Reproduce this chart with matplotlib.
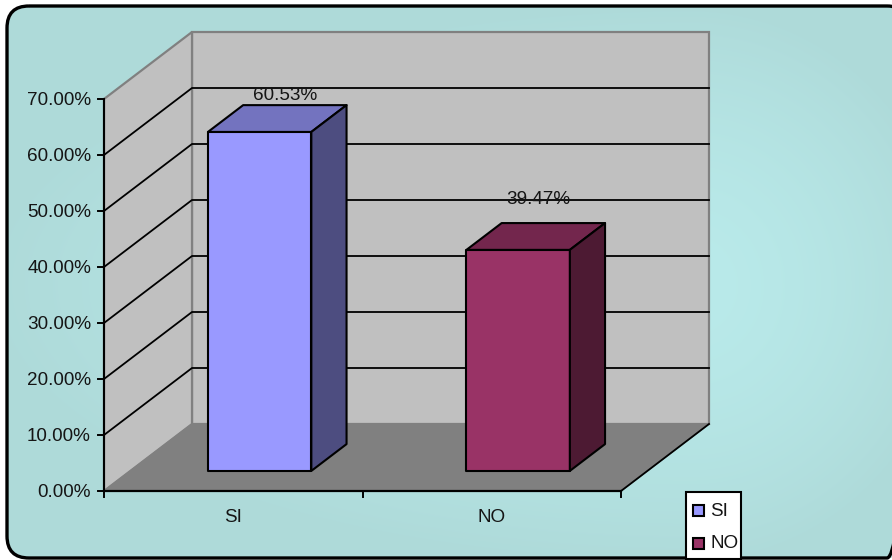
import numpy as np
from matplotlib import pyplot as plt
from matplotlib.patches import FancyBboxPatch, Polygon, Rectangle

categories = ['SI', 'NO']
values = [60.53, 39.47]
value_labels = ['60.53%', '39.47%']
ticks = [0, 10, 20, 30, 40, 50, 60, 70]
tick_labels = ['0.00%', '10.00%', '20.00%', '30.00%', '40.00%', '50.00%', '60.00%', '70.00%']

face_colors = ['#9999ff', '#993366']
top_colors = ['#7373bf', '#73264d']
side_colors = ['#4d4d80', '#4d1a33']

plt.rcParams['font.family'] = ['Liberation Sans', 'DejaVu Sans']
FONT = 13.6
TEXT_COLOR = '#151515'

# pixel layout of the box: front corner, size and depth shift
X0, Y0 = 104, 491
WIDTH = 517
PER_UNIT = 5.6
DX, DY = 88, -67


def project(x, v, d=0.0):
    '''x in category units (0-2), v in percent, d depth from 0 (front) to 1 (back).'''
    return (X0 + x * WIDTH / 2 + d * DX, Y0 - v * PER_UNIT + d * DY)


fig = plt.figure(figsize=(8.92, 5.6), dpi=100)
ax = fig.add_axes([0, 0, 1, 1])
ax.set_xlim(0, 892)
ax.set_ylim(560, 0)
ax.axis('off')

# panel gradient: lightest right of the plot, darkening towards the edges
yy, xx = np.mgrid[0:560, 0:892]
x_scale = np.where(xx > 690, 270.0, 720.0)
shade = np.sqrt(((xx - 690) / x_scale) ** 2 + ((yy - 285) / 285.0) ** 2)
shade = np.clip(shade, 0, 1)[..., None] ** 1.6
light = np.array([0xb9, 0xea, 0xea]) / 255
dark = np.array([0xae, 0xda, 0xd9]) / 255
img = ax.imshow(light * (1 - shade) + dark * shade, extent=(0, 892, 560, 0),
                aspect='auto', zorder=0)
ax.set_xlim(0, 892)
ax.set_ylim(560, 0)

# rounded border, running off the right edge
panel_box = ((7, 6), 902, 552)
clip = FancyBboxPatch(*panel_box, boxstyle='round,pad=0,rounding_size=22',
                      facecolor='none', edgecolor='none')
ax.add_patch(clip)
img.set_clip_path(clip)
ax.add_patch(FancyBboxPatch(*panel_box, boxstyle='round,pad=0,rounding_size=22',
                            facecolor='none', edgecolor='black', linewidth=2.4,
                            clip_on=True, zorder=3))

# walls and floor
back = [project(0, 0, 1), project(2, 0, 1), project(2, 70, 1), project(0, 70, 1)]
left = [project(0, 0, 0), project(0, 0, 1), project(0, 70, 1), project(0, 70, 0)]
floor = [project(0, 0, 0), project(2, 0, 0), project(2, 0, 1), project(0, 0, 1)]
ax.add_patch(Polygon(back, facecolor='#c0c0c0', edgecolor='#808080', linewidth=1.6, zorder=1))
ax.add_patch(Polygon(left, facecolor='#c0c0c0', edgecolor='#808080', linewidth=1.6, zorder=1))
ax.add_patch(Polygon(floor, facecolor='#808080', edgecolor='#808080', linewidth=1.0, zorder=1))

# gridlines across both walls
for t in ticks[1:-1]:
    pts = [project(0, t, 0), project(0, t, 1), project(2, t, 1)]
    ax.plot(*zip(*pts), color='black', linewidth=1.3, zorder=2)

# axis lines and tick marks
ax.plot(*zip(project(0, 0), project(0, 70)), color='black', linewidth=1.5, zorder=2)
ax.plot(*zip(project(0, 0), project(2, 0)), color='black', linewidth=1.6, zorder=2)
ax.plot(*zip(project(2, 0), project(2, 0, 1)), color='black', linewidth=1.3, zorder=2)
for t, label in zip(ticks, tick_labels):
    x, y = project(0, t)
    ax.plot([x - 6, x], [y, y], color='black', linewidth=1.4, zorder=2)
    ax.text(x - 13, y + 1.5, label, ha='right', va='center', fontsize=FONT, color=TEXT_COLOR)
for i in range(3):
    x, y = project(i, 0)
    ax.plot([x, x], [y, y + 6], color='black', linewidth=1.4, zorder=2)

# bars: the front sits at d0, the back at d1
d0, d1 = 0.3, 0.7
bar_left, bar_right = 0.30, 0.70
label_shift = [(-10, -10), (-15, -24)]
for i, (name, v, text) in enumerate(zip(categories, values, value_labels)):
    l, r = i + bar_left, i + bar_right
    front = [project(l, 0, d0), project(r, 0, d0), project(r, v, d0), project(l, v, d0)]
    top = [project(l, v, d0), project(r, v, d0), project(r, v, d1), project(l, v, d1)]
    side = [project(r, 0, d0), project(r, 0, d1), project(r, v, d1), project(r, v, d0)]
    for poly, col in ((front, face_colors[i]), (top, top_colors[i]), (side, side_colors[i])):
        ax.add_patch(Polygon(poly, facecolor=col, edgecolor='black', linewidth=1.5,
                             joinstyle='round', zorder=4))
    x, y = project(i + 0.5, v, d1)
    ax.text(x + label_shift[i][0], y + label_shift[i][1], text, ha='center', va='center',
            fontsize=FONT, color=TEXT_COLOR, zorder=5)
    x, y = project(i + 0.5, 0)
    ax.text(x, y + 26, name, ha='center', va='center', fontsize=FONT, color=TEXT_COLOR)

# legend box
ax.add_patch(Rectangle((686, 492), 55, 67, facecolor='white', edgecolor='black',
                       linewidth=1.5, zorder=4))
for name, col, y in zip(categories, face_colors, [510, 543]):
    ax.add_patch(Rectangle((692.5, y - 5.5), 11, 11, facecolor=col, edgecolor='black',
                           linewidth=1.5, zorder=5))
    ax.text(710, y + 1, name, ha='left', va='center', fontsize=FONT, color=TEXT_COLOR, zorder=5)

fig.savefig('out.png', dpi=100)
